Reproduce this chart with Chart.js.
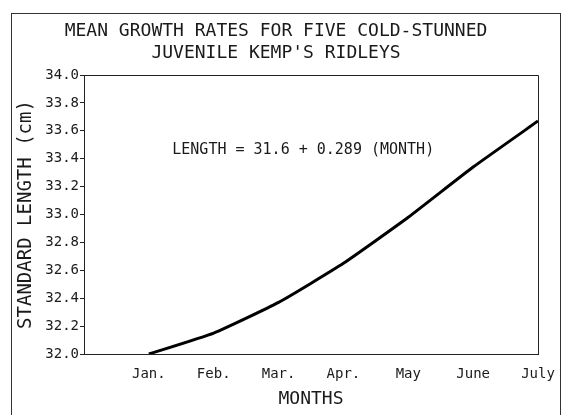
<!DOCTYPE html>
<html>
<head>
<meta charset="utf-8">
<script src="https://cdn.jsdelivr.net/npm/chart.js@4"></script>
<style>
  html, body { margin: 0; padding: 0; background: #fff; }
  #wrap { width: 563px; height: 415px; }
</style>
</head>
<body>
<div id="wrap"><canvas id="graph" width="563" height="415"></canvas></div>
<script>
// data
const monthLabels = ['Jan.', 'Feb.', 'Mar.', 'Apr.', 'May', 'June', 'July'];
const monthNumbers = [1, 2, 3, 4, 5, 6, 7];
const standardLength = [32.0, 32.15, 32.37, 32.65, 32.98, 33.34, 33.67];

const yMin = 32.0;
const yMax = 34.0;
const yStep = 0.2;

const titleLines = ['MEAN GROWTH RATES FOR FIVE COLD-STUNNED', "JUVENILE KEMP'S RIDLEYS"];
const equationText = 'LENGTH = 31.6 + 0.289 (MONTH)';
const equationAt = {x: 3.38, y: 33.46};

const mono = 'DejaVu Sans Mono';
const ink = '#1a1a1a';

// white page + frame + closing the plot box (top and right)
const framePlugin = {
    id: 'frame',
    beforeDraw(chart) {
        const ctx = chart.ctx;
        ctx.save();
        ctx.fillStyle = '#fff';
        ctx.fillRect(0, 0, chart.width, chart.height);
        ctx.strokeStyle = '#333';
        ctx.lineWidth = 1;
        ctx.strokeRect(11.5, 13.5, 549, 410);
        ctx.restore();
    },
    afterDraw(chart) {
        const a = chart.chartArea;
        const ctx = chart.ctx;
        ctx.save();
        ctx.strokeStyle = '#222';
        ctx.lineWidth = 1;
        ctx.beginPath();
        ctx.moveTo(a.left, a.top + 0.5);
        ctx.lineTo(a.right + 0.5, a.top + 0.5);
        ctx.lineTo(a.right + 0.5, a.bottom);
        ctx.stroke();

        // equation note
        const x = chart.scales.x.getPixelForValue(equationAt.x);
        const y = chart.scales.y.getPixelForValue(equationAt.y);
        ctx.fillStyle = ink;
        ctx.font = '15px "' + mono + '"';
        ctx.textAlign = 'center';
        ctx.textBaseline = 'middle';
        ctx.fillText(equationText, x, y);
        ctx.restore();
    }
};

const graph = document.getElementById('graph');

new Chart(graph, {
    type: 'line',
    data: {
        datasets: [{
            data: monthNumbers.map((m, i) => ({x: m, y: standardLength[i]})),
            borderColor: '#000',
            borderWidth: 3,
            pointRadius: 0,
            tension: 0.15,
            fill: false
        }]
    },
    plugins: [framePlugin],
    options: {
        responsive: false,
        animation: false,
        devicePixelRatio: 1,
        layout: {
            padding: {left: 14, right: 25, top: 0, bottom: 0}
        },
        plugins: {
            legend: {display: false},
            tooltip: {enabled: false},
            title: {
                display: true,
                text: titleLines,
                color: ink,
                font: {family: mono, size: 18, weight: 'normal', lineHeight: 22 / 18},
                padding: {top: 20, bottom: 11}
            }
        },
        scales: {
            x: {
                type: 'linear',
                min: 0,
                max: 7,
                afterFit(scale) {
                    scale.height = 61;
                    scale.paddingLeft = 0;
                    scale.paddingRight = 0;
                },
                afterBuildTicks(scale) {
                    scale.ticks = [0].concat(monthNumbers).map(v => ({value: v}));
                },
                ticks: {
                    stepSize: 1,
                    color: ink,
                    font: {family: mono, size: 14},
                    padding: 12,
                    maxRotation: 0,
                    autoSkip: false,
                    callback: (v) => monthLabels[v - 1] || ''
                },
                grid: {display: true, drawOnChartArea: false, tickLength: 0, color: '#222'},
                border: {display: true, color: '#222', width: 1},
                title: {
                    display: true,
                    text: 'MONTHS',
                    color: ink,
                    font: {family: mono, size: 18, lineHeight: 1.2},
                    padding: {top: 0, bottom: 5}
                }
            },
            y: {
                min: yMin,
                max: yMax,
                afterFit(scale) { scale.width = 70; },
                ticks: {
                    stepSize: yStep,
                    color: ink,
                    font: {family: mono, size: 14},
                    padding: 1,
                    callback: (v) => Number(v).toFixed(1)
                },
                grid: {display: true, drawOnChartArea: false, tickLength: 4, color: '#222'},
                border: {display: true, color: '#222', width: 1},
                title: {
                    display: true,
                    text: 'STANDARD LENGTH (cm)',
                    color: ink,
                    font: {family: mono, size: 19, lineHeight: 1.2},
                    padding: {top: 1, bottom: 0}
                }
            }
        }
    }
});
</script>
</body>
</html>
